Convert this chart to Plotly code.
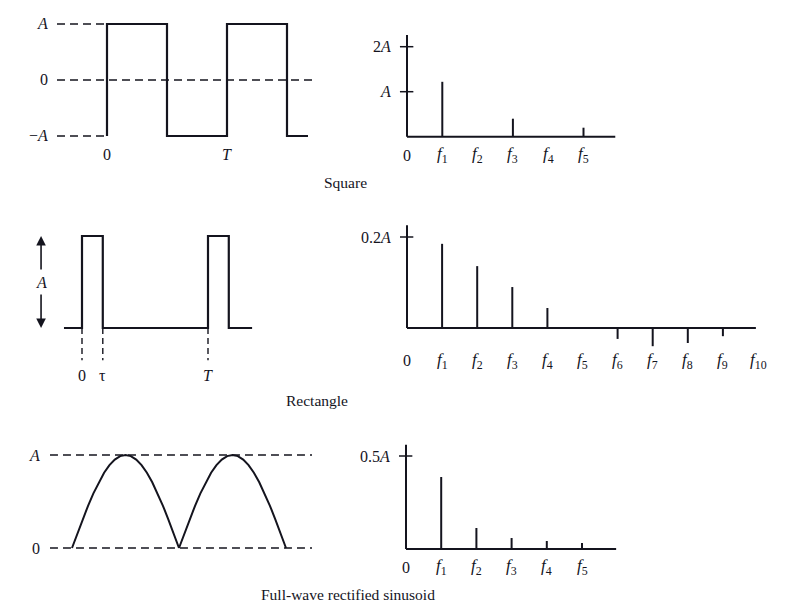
import plotly.graph_objects as go

W, H = 793, 604
INK = "#14141e"
FONT = "Liberation Serif"

# ---------------- data ----------------
# Square wave (time in periods T, amplitude in A)
square_t = [0, 0, 0.5, 0.5, 1, 1, 1.5, 1.5, 1.675]
square_v = [-1, 1, 1, -1, -1, 1, 1, -1, -1]
square_levels = [1, 0, -1]
square_level_labels = ["<i>A</i>", "0", "\u2212<i>A</i>"]
square_level_ends = [0, 1.733, 0]
square_time_ticks = [0, 1]
square_time_labels = ["0", "<i>T</i>"]

# Square-wave spectrum
square_harm = [1, 2, 3, 4, 5]
square_amp = [1.22, 0, 0.40, 0, 0.20]
square_yticks = [1, 2]
square_ytick_labels = ["<i>A</i>", "2<i>A</i>"]

# Rectangle (pulse train), tau ~ 0.165 T
rect_t = [-0.143, 0, 0, 0.165, 0.165, 1, 1, 1.165, 1.165, 1.35]
rect_v = [0, 0, 1, 1, 0, 0, 1, 1, 0, 0]
rect_marks = [0, 0.165, 1]
rect_mark_labels = ["0", "\u03c4", "<i>T</i>"]

# Rectangle spectrum (units of A)
rect_harm = [1, 2, 3, 4, 5, 6, 7, 8, 9]
rect_amp = [0.185, 0.136, 0.090, 0.044, 0, -0.024, -0.040, -0.033, -0.018]
rect_yticks = [0.2]
rect_ytick_labels = ["0.2<i>A</i>"]

# Full-wave rectified sinusoid: one arch, values read at steps of 1/20
arch_v = [0, 0.156, 0.309, 0.454, 0.588, 0.707, 0.809, 0.891, 0.951, 0.988, 1.0,
          0.988, 0.951, 0.891, 0.809, 0.707, 0.588, 0.454, 0.309, 0.156, 0]
arch_starts = [0, 1]
fw_levels = [1, 0]
fw_level_labels = ["<i>A</i>", "0"]

# Full-wave spectrum (units of A)
fw_harm = [1, 2, 3, 4, 5]
fw_amp = [0.387, 0.113, 0.059, 0.043, 0.032]
fw_yticks = [0.5]
fw_ytick_labels = ["0.5<i>A</i>"]

freq_labels = ["0"] + ["<i>f</i><sub>%d</sub>" % k for k in range(1, 11)]

captions = ["Square", "Rectangle", "Full-wave rectified sinusoid"]

# ---------------- layout helpers ----------------
def xax(p_lo, p_hi, p0, ppu, v0=0.0):
    return dict(domain=[p_lo / W, p_hi / W],
                range=[v0 + (p_lo - p0) / ppu, v0 + (p_hi - p0) / ppu],
                visible=False, fixedrange=True)

def yax(p_top, p_bot, p0, ppu, v0=0.0):
    return dict(domain=[1 - p_bot / H, 1 - p_top / H],
                range=[v0 - (p_bot - p0) / ppu, v0 + (p0 - p_top) / ppu],
                visible=False, fixedrange=True)

fig = go.Figure()
annots = []

def line(x, y, ax, width=2.0, dash=None):
    fig.add_trace(go.Scatter(
        x=x, y=y, mode="lines", xaxis="x" + ax, yaxis="y" + ax,
        line=dict(color=INK, width=width, dash=dash, shape="linear"),
        hoverinfo="skip", showlegend=False))

def text(t, x, y, ax, xanchor="center", size=16):
    annots.append(dict(text=t, x=x, y=y, xref="x" + ax, yref="y" + ax,
                       showarrow=False, xanchor=xanchor, yanchor="middle",
                       font=dict(family=FONT, size=size, color=INK)))

DASH = "8px,5px"

# ---------- Panel 1: square wave ----------
for lvl, end in zip(square_levels, square_level_ends):
    line([-0.4167, end], [lvl, lvl], "", width=1.5, dash=DASH)
line(square_t, square_v, "", width=2.2)
for lvl, lab in zip(square_levels, square_level_labels):
    text(lab, -0.475, lvl, "", xanchor="right")
for t, lab in zip(square_time_ticks, square_time_labels):
    text(lab, t, -1.33, "")

# ---------- spectrum helper ----------
def spectrum(ax, harm, amp, ymax, xmax, yticks, ylabels, nlab, label_y):
    line([0, 0], [0, ymax], ax, width=2.0)
    line([0, xmax], [0, 0], ax, width=2.0)
    sx, sy = [], []
    for h, a in zip(harm, amp):
        if a != 0:
            sx += [h, h, None]
            sy += [0, a, None]
    line(sx, sy, ax, width=2.0)
    tx, ty = [], []
    for v in yticks:
        tx += [-0.2, 0.18, None]
        ty += [v, v, None]
    line(tx, ty, ax, width=1.5)
    for v, lab in zip(yticks, ylabels):
        text(lab, -0.4, v, ax, xanchor="right")
    for k in range(nlab):
        text(freq_labels[k], k, label_y, ax, size=16 if k == 0 else 17)

# ---------- Panel 2: square spectrum ----------
spectrum("2", square_harm, square_amp, 2.26, 5.9, square_yticks, square_ytick_labels,
         6, -0.41)

# ---------- Panel 3: rectangle ----------
line(rect_t, rect_v, "3", width=2.2)
for m in rect_marks:
    line([m, m], [0, -0.35], "3", width=1.4, dash="6px,4px")
for m, lab in zip(rect_marks, rect_mark_labels):
    text(lab, m, -0.52, "3")
# double arrow with label A
arrow_x = -0.325
for tip, tail in [(1.0, 0.62), (0.0, 0.38)]:
    annots.append(dict(x=arrow_x, y=tip, ax=arrow_x, ay=tail,
                       xref="x3", yref="y3", axref="x3", ayref="y3",
                       text="", showarrow=True, arrowhead=2, arrowsize=1.2,
                       arrowwidth=1.6, arrowcolor=INK))
text("<i>A</i>", arrow_x, 0.49, "3")

# ---------- Panel 4: rectangle spectrum ----------
spectrum("4", rect_harm, rect_amp, 0.226, 9.94, rect_yticks, rect_ytick_labels,
         11, -0.072)

# ---------- Panel 5: full-wave rectified ----------
for lvl in fw_levels:
    line([-0.206, 2.243], [lvl, lvl], "5", width=1.5, dash=DASH)
ax_, ay_ = [], []
for s in arch_starts:
    ax_ += [s + i / 20 for i in range(len(arch_v))] + [None]
    ay_ += arch_v + [None]
line(ax_, ay_, "5", width=2.0)
for lvl, lab in zip(fw_levels, fw_level_labels):
    text(lab, -0.28, lvl, "5", xanchor="right")

# ---------- Panel 6: full-wave spectrum ----------
spectrum("6", fw_harm, fw_amp, 0.56, 5.97, fw_yticks, fw_ytick_labels,
         6, -0.097)

# ---------- captions ----------
for cap, (px, py) in zip(captions, [(345, 182), (317, 400), (348, 594)]):
    annots.append(dict(text=cap, x=px / W, y=1 - py / H, xref="paper", yref="paper",
                       showarrow=False, xanchor="center", yanchor="middle",
                       font=dict(family=FONT, size=15.5, color=INK)))

fig.update_layout(
    width=W, height=H, autosize=False,
    margin=dict(l=0, r=0, t=0, b=0),
    paper_bgcolor="white", plot_bgcolor="rgba(0,0,0,0)",
    showlegend=False,
    xaxis=xax(20, 330, 107, 120), yaxis=yax(10, 170, 80, 56),
    xaxis2=xax(370, 640, 407, 35.3), yaxis2=yax(25, 170, 136.7, 45),
    xaxis3=xax(20, 300, 82, 126), yaxis3=yax(215, 390, 328, 92),
    xaxis4=xax(370, 780, 407, 35.1), yaxis4=yax(215, 380, 328, 455),
    xaxis5=xax(20, 330, 72, 107), yaxis5=yax(435, 575, 548, 93),
    xaxis6=xax(370, 640, 406, 35.2), yaxis6=yax(435, 580, 549, 186),
    annotations=annots,
)
for i in range(2, 7):
    fig.layout["yaxis%d" % i].anchor = "x%d" % i
    fig.layout["xaxis%d" % i].anchor = "y%d" % i

fig.write_html("out.html", config={"displayModeBar": False},
               post_script="document.body.style.margin='0px';"
                           "document.body.style.overflow='hidden';")
